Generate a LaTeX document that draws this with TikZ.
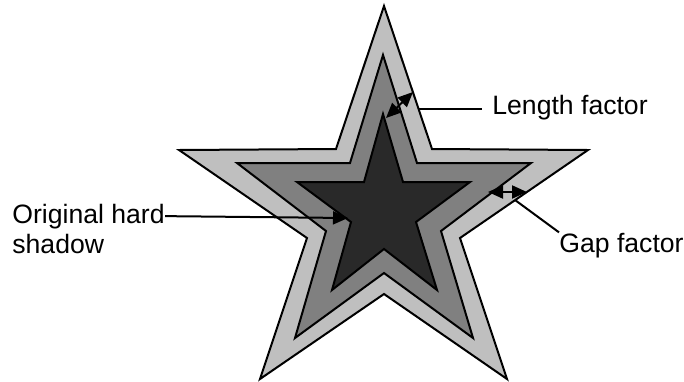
\documentclass[tikz,border=0pt]{standalone}
\usepackage{fontspec}
\setmainfont{Liberation Sans}
\usetikzlibrary{arrows.meta}
\definecolor{shadeLight}{gray}{0.75}
\definecolor{shadeMid}{gray}{0.5}
\definecolor{shadeDark}{gray}{0.16}

\begin{document}
\begin{tikzpicture}[x=0.5pt, y=-0.5pt, >={Triangle[length=7.5pt,width=6.5pt]},
  star/.style={draw=black, line width=1pt, line join=miter},
  note/.style={inner sep=0pt, font=\fontsize{13.3}{15}\selectfont},
  leader/.style={line width=1pt}]
  \useasboundingbox (0,0) rectangle (684,381);
  % Outer star: shadow grown by the length factor
  \filldraw[star, fill=shadeLight] (384,6) -- (432,149) -- (588,150) -- (460,238)
    -- (507,379) -- (384,294) -- (260,379) -- (307,238) -- (179,150) -- (336,149) -- cycle;
  % Middle star
  \filldraw[star, fill=shadeMid] (383,55) -- (417,163) -- (531,163) -- (441,231)
    -- (473,338) -- (384,273) -- (295,338) -- (326,231) -- (237,163) -- (350,163) -- cycle;
  % Inner star: original hard shadow
  \filldraw[star, fill=shadeDark] (383,114) -- (403,182) -- (470,182) -- (416,222)
    -- (437,290) -- (384,249) -- (332,290) -- (351,222) -- (297,182) -- (364,182) -- cycle;

  % Labels
  \node[note, anchor=base west, inner xsep=5pt] (lenLabel) at (482,114) {Length factor};
  \node[note, anchor=base west] (gapLabel) at (559,252) {Gap factor};
  \node[note, anchor=base west] (origLabel) at (12,223) {Original hard};
  \node[note, anchor=base west] (origLabelB) at (12,253) {shadow};

  % Length factor
  \coordinate (lenIn) at (386,118);
  \coordinate (lenOut) at (413,92);
  \coordinate (lenEdge) at (418,109);
  \draw[leader, <->] (lenIn) -- (lenOut);
  \draw[leader] (lenEdge) -- (lenEdge -| lenLabel.west);
  % Gap factor
  \coordinate (gapIn) at (488,192);
  \coordinate (gapOut) at (527,192);
  \coordinate (gapEdge) at (515,200);
  \draw[leader, <->] (gapIn) -- (gapOut);
  \draw[leader] (gapEdge) -- (gapLabel.north west);
  % Original hard shadow
  \coordinate (origTip) at (348,218);
  \draw[leader, ->] (origLabel.east) -- (origTip);
\end{tikzpicture}
\end{document}
